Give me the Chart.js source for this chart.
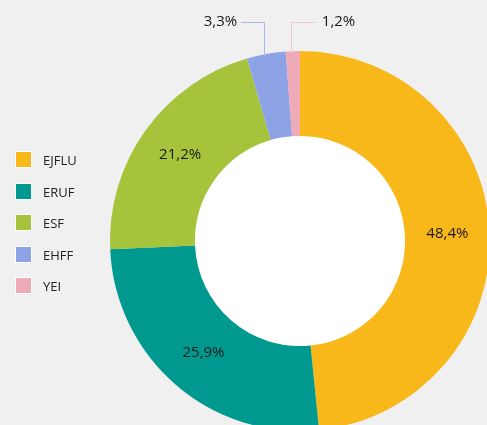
<!DOCTYPE html>
<html>
<head>
<meta charset="utf-8">
<script src="https://cdn.jsdelivr.net/npm/chart.js@4/dist/chart.umd.min.js"></script>
<style>
  html, body { margin: 0; padding: 0; width: 487px; height: 425px; overflow: hidden; background: #f0f0f0; }
  #wrap { position: relative; width: 487px; height: 425px; overflow: hidden; }
  #c { position: absolute; left: 0; top: 0; }
  #legend { position: absolute; left: 15px; top: 151px; font-family: "Open Sans", sans-serif; font-size: 13px; color: #222; }
  .item { height: 31.6px; display: flex; align-items: flex-start; }
  .sw { width: 15px; height: 15px; border: 1.5px solid #fff; box-sizing: content-box; }
  .lb { margin-left: 11px; line-height: 18px; }
</style>
</head>
<body>
<div id="wrap">
  <canvas id="c" width="600" height="482"></canvas>
  <div id="legend"></div>
</div>
<script>
const categories = ["EJFLU", "ERUF", "ESF", "EHFF", "YEI"];
const values = [48.4, 25.9, 21.2, 3.3, 1.2];
const valueLabels = ["48,4%", "25,9%", "21,2%", "3,3%", "1,2%"];
const colors = ["#f8b81a", "#00998f", "#a5c43b", "#8ea2e6", "#eeaab7"];
const leaderColors = ["#f8b81a", "#00998f", "#a5c43b", "#a9b8ee", "#f3c6cf"];

// HTML legend
const leg = document.getElementById('legend');
categories.forEach((c, i) => {
  const d = document.createElement('div');
  d.className = 'item';
  d.innerHTML = '<div class="sw" style="background:' + colors[i] + '"></div><div class="lb">' + c + '</div>';
  leg.appendChild(d);
});

const holePlugin = {
  id: 'hole',
  beforeDatasetsDraw(chart) {
    const arc = chart.getDatasetMeta(0).data[0];
    if (!arc) return;
    const ctx = chart.ctx;
    ctx.save();
    ctx.fillStyle = '#ffffff';
    ctx.beginPath();
    ctx.arc(arc.x, arc.y, arc.innerRadius + 0.5, 0, Math.PI * 2);
    ctx.fill();
    ctx.restore();
  }
};

const labelPlugin = {
  id: 'labels',
  afterDatasetsDraw(chart) {
    const ctx = chart.ctx;
    const arcs = chart.getDatasetMeta(0).data;
    ctx.save();
    ctx.font = '15px "Open Sans", sans-serif';
    ctx.fillStyle = '#1a1a1a';
    ctx.textBaseline = 'middle';
    arcs.forEach((arc, i) => {
      if (values[i] >= 5) {
        const p = arc.tooltipPosition();
        ctx.textAlign = 'center';
        ctx.fillText(valueLabels[i], p.x, p.y);
      } else {
        const mid = (arc.startAngle + arc.endAngle) / 2;
        const x0 = arc.x + Math.cos(mid) * arc.outerRadius;
        const y0 = arc.y + Math.sin(mid) * arc.outerRadius;
        const yTop = arc.y - arc.outerRadius - 29;
        const right = i === arcs.length - 1;
        const x1 = right ? x0 + 23 : x0 - 25;
        ctx.strokeStyle = leaderColors[i];
        ctx.lineWidth = 1;
        ctx.beginPath();
        ctx.moveTo(Math.round(x0 - 2) + 0.5, y0 + 2);
        ctx.lineTo(Math.round(x0 - 2) + 0.5, Math.round(yTop) + 0.5);
        ctx.lineTo(x1, Math.round(yTop) + 0.5);
        ctx.stroke();
        ctx.textAlign = right ? 'left' : 'right';
        ctx.fillText(valueLabels[i], right ? x1 + 6 : x1 - 4, yTop);
      }
    });
    ctx.restore();
  }
};

new Chart(document.getElementById('c'), {
  type: 'doughnut',
  data: {
    labels: categories,
    datasets: [{
      data: values,
      backgroundColor: colors,
      borderWidth: 0,
      hoverOffset: 0
    }]
  },
  options: {
    responsive: false,
    animation: false,
    devicePixelRatio: 1,
    cutout: '55.3%',
    layout: { padding: { left: 110, right: 110, top: 51, bottom: 51 } },
    plugins: {
      legend: { display: false },
      tooltip: { enabled: false }
    }
  },
  plugins: [holePlugin, labelPlugin]
});
</script>
</body>
</html>
